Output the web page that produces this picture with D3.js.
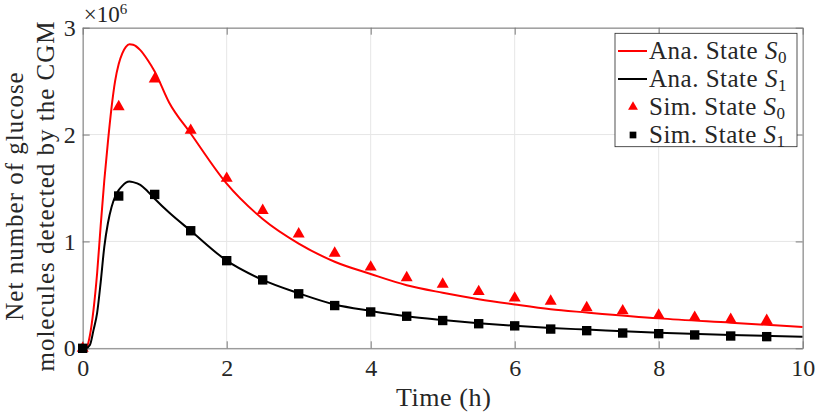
<!DOCTYPE html>
<html>
<head>
<meta charset="utf-8">
<script src="https://cdn.jsdelivr.net/npm/d3@7/dist/d3.min.js"></script>
<style>
  html, body { margin: 0; padding: 0; background: #fff; }
  svg { display: block; }
</style>
</head>
<body>
<svg id="chart" width="830" height="415"></svg>
<script>
// ---- Data (glucose molecule counts) ----
const tAna  = [0, 0.05, 0.1, 0.15, 0.2, 0.25, 0.3, 0.35, 0.4, 0.45, 0.5, 0.55, 0.6, 0.65, 0.7, 0.8, 0.9, 1.0, 1.2, 1.5, 2, 2.5, 3, 3.5, 4, 4.5, 5, 5.5, 6, 6.5, 7, 8, 9, 10];
const anaS0 = [0, 0.005e6, 0.12e6, 0.36e6, 0.70e6, 1.15e6, 1.57e6, 1.93e6, 2.25e6, 2.50e6, 2.66e6, 2.76e6, 2.82e6, 2.845e6, 2.84e6, 2.79e6, 2.70e6, 2.59e6, 2.30e6, 2.01e6, 1.54e6, 1.21e6, 0.98e6, 0.81e6, 0.695e6, 0.59e6, 0.52e6, 0.46e6, 0.41e6, 0.365e6, 0.335e6, 0.28e6, 0.24e6, 0.20e6];
const anaS1 = [0, 0.002e6, 0.03e6, 0.17e6, 0.33e6, 0.62e6, 0.95e6, 1.17e6, 1.32e6, 1.42e6, 1.48e6, 1.52e6, 1.55e6, 1.56e6, 1.555e6, 1.53e6, 1.47e6, 1.40e6, 1.27e6, 1.10e6, 0.82e6, 0.64e6, 0.515e6, 0.41e6, 0.35e6, 0.30e6, 0.265e6, 0.235e6, 0.21e6, 0.19e6, 0.175e6, 0.146e6, 0.125e6, 0.109e6];
const tSim  = [0, 0.5, 1, 1.5, 2, 2.5, 3, 3.5, 4, 4.5, 5, 5.5, 6, 6.5, 7, 7.5, 8, 8.5, 9, 9.5];
const simS0 = [0, 2.26e6, 2.52e6, 2.04e6, 1.59e6, 1.29e6, 1.07e6, 0.89e6, 0.76e6, 0.66e6, 0.60e6, 0.53e6, 0.47e6, 0.44e6, 0.38e6, 0.35e6, 0.31e6, 0.29e6, 0.27e6, 0.26e6];
const simS1 = [0, 1.425e6, 1.44e6, 1.10e6, 0.82e6, 0.64e6, 0.51e6, 0.40e6, 0.34e6, 0.30e6, 0.26e6, 0.23e6, 0.21e6, 0.18e6, 0.165e6, 0.143e6, 0.137e6, 0.125e6, 0.115e6, 0.109e6];
const xTicks = [0, 2, 4, 6, 8, 10];
const yTicks = [0, 1e6, 2e6, 3e6];
const xLabel = "Time (h)";
const yLabelLines = ["Net number of glucose", "molecules detected by the CGM"];
const legendLabels = [["Ana. State ", "0"], ["Ana. State ", "1"], ["Sim. State ", "0"], ["Sim. State ", "1"]];

// ---- Layout ----
const FONT = "Liberation Serif";
const svg = d3.select("#chart").attr("font-family", FONT);
const m = { left: 82.7, right: 802.7, top: 27.7, bottom: 348.3 };
const x = d3.scaleLinear().domain([0, 10]).range([m.left, m.right]);
const y = d3.scaleLinear().domain([0, 3e6]).range([m.bottom, m.top]);
const axisColor = "#262626";
const fsTick = 24, fsLab = 25, fsLeg = 25;

function txt(sel) { return sel.append("text").attr("font-family", FONT).attr("fill", axisColor); }

// clip
svg.append("defs").append("clipPath").attr("id", "clip")
  .append("rect").attr("x", m.left).attr("y", m.top - 6)
  .attr("width", m.right - m.left).attr("height", m.bottom - m.top + 12);

// grid
const grid = svg.append("g");
grid.selectAll(".gx").data(xTicks).enter().append("line")
  .attr("x1", d => x(d)).attr("x2", d => x(d)).attr("y1", m.top).attr("y2", m.bottom)
  .attr("stroke", "#e6e6e6").attr("stroke-width", 1);
grid.selectAll(".gy").data(yTicks).enter().append("line")
  .attr("y1", d => y(d)).attr("y2", d => y(d)).attr("x1", m.left).attr("x2", m.right)
  .attr("stroke", "#e6e6e6").attr("stroke-width", 1);

// axes via d3 axis (inward ticks)
const tickLen = 7;
const xAxis = d3.axisBottom(x).tickValues(xTicks).tickSizeInner(-tickLen).tickSizeOuter(0).tickPadding(11).tickFormat(d3.format("d"));
const yAxis = d3.axisLeft(y).tickValues(yTicks).tickSizeInner(-tickLen).tickSizeOuter(0).tickPadding(7).tickFormat(d => d / 1e6);
const gx = svg.append("g").attr("transform", `translate(0,${m.bottom})`).call(xAxis);
const gy = svg.append("g").attr("transform", `translate(${m.left},0)`).call(yAxis);
const gxt = svg.append("g").attr("transform", `translate(0,${m.top})`).call(d3.axisTop(x).tickValues(xTicks).tickSizeInner(-tickLen).tickSizeOuter(0).tickFormat(""));
const gyr = svg.append("g").attr("transform", `translate(${m.right},0)`).call(d3.axisRight(y).tickValues(yTicks).tickSizeInner(-tickLen).tickSizeOuter(0).tickFormat(""));
[gx, gy, gxt, gyr].forEach(g => {
  g.attr("font-family", FONT).attr("font-size", fsTick);
  g.select(".domain").attr("stroke", "#7a7a7a").attr("stroke-width", 1);
  g.selectAll(".tick line").attr("stroke", "#7a7a7a").attr("stroke-width", 1);
  g.selectAll(".tick text").attr("font-size", fsTick).attr("fill", axisColor).attr("font-family", FONT);
});

// exponent label
const ex = txt(svg).attr("x", m.left + 1).attr("y", 22).attr("font-size", 23);
ex.append("tspan").text("×10");
ex.append("tspan").attr("font-size", 15).attr("dy", -8).text("6");

// axis labels
txt(svg).attr("x", (m.left + m.right) / 2 + 1).attr("y", 406)
  .attr("text-anchor", "middle").attr("font-size", fsLab + 1).attr("letter-spacing", 0.6).text(xLabel);
yLabelLines.forEach((s, i) => {
  txt(svg).attr("transform", `translate(${23 + i * 31},${(m.top + m.bottom) / 2 + 8}) rotate(-90)`)
    .attr("text-anchor", "middle").attr("font-size", fsLab).attr("letter-spacing", 1.0).text(s);
});

// lines
const plot = svg.append("g").attr("clip-path", "url(#clip)");
const line = d3.line().x(d => x(d[0])).y(d => y(d[1])).curve(d3.curveMonotoneX);
plot.append("path").datum(tAna.map((t, i) => [t, anaS0[i]]))
  .attr("d", line).attr("fill", "none").attr("stroke", "#ff0000").attr("stroke-width", 2);
plot.append("path").datum(tAna.map((t, i) => [t, anaS1[i]]))
  .attr("d", line).attr("fill", "none").attr("stroke", "#000000").attr("stroke-width", 2);

// markers
const tri = d3.symbol().type(d3.symbolTriangle).size(62);
const sq = d3.symbol().type(d3.symbolSquare).size(88);
svg.append("g").selectAll("path").data(tSim.map((t, i) => [t, simS0[i]])).enter().append("path")
  .attr("d", tri).attr("transform", d => `translate(${x(d[0])},${y(d[1])})`).attr("fill", "#ff0000");
svg.append("g").selectAll("path").data(tSim.map((t, i) => [t, simS1[i]])).enter().append("path")
  .attr("d", sq).attr("transform", d => `translate(${x(d[0])},${y(d[1])})`).attr("fill", "#000000");

// legend
const lg = svg.append("g");
const lx = 615, ly = 33.3, lw = 182, lh = 113.4;
lg.append("rect").attr("x", lx).attr("y", ly).attr("width", lw).attr("height", lh)
  .attr("fill", "#fff").attr("stroke", "#262626").attr("stroke-width", 0.8);
const rows = [51, 79, 107, 135];
const colors = ["#ff0000", "#000000", "#ff0000", "#000000"];
legendLabels.forEach((lab, i) => {
  const cy = rows[i];
  if (i < 2) {
    lg.append("line").attr("x1", lx + 3).attr("x2", lx + 32).attr("y1", cy).attr("y2", cy)
      .attr("stroke", colors[i]).attr("stroke-width", 2);
  } else {
    lg.append("path").attr("d", (i === 2 ? d3.symbol().type(d3.symbolTriangle).size(42) : d3.symbol().type(d3.symbolSquare).size(45))())
      .attr("transform", `translate(${lx + 18},${cy})`).attr("fill", colors[i]);
  }
  const t = txt(lg).attr("x", lx + 34).attr("y", cy + 8).attr("font-size", fsLeg).attr("letter-spacing", 0.5);
  t.append("tspan").text(lab[0]);
  t.append("tspan").attr("font-style", "italic").text("S");
  t.append("tspan").attr("font-size", 17).attr("dy", 4).text(lab[1]);
});
</script>
</body>
</html>
